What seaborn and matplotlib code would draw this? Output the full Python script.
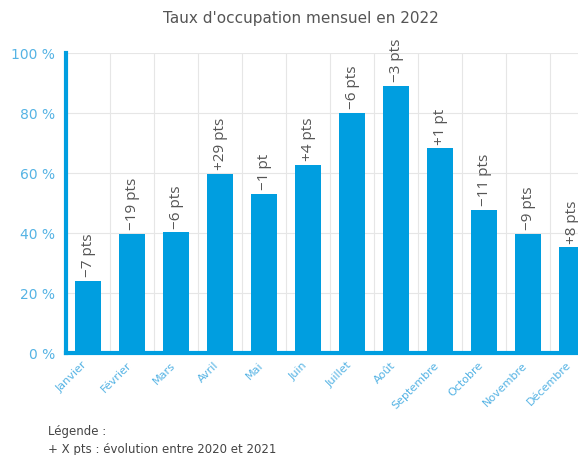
import matplotlib
matplotlib.use("Agg")
import matplotlib.pyplot as plt
from matplotlib.ticker import FixedLocator
from matplotlib.transforms import ScaledTranslation
import pandas as pd
import seaborn as sns

# Data
months = ["Janvier", "Février", "Mars", "Avril", "Mai", "Juin", "Juillet",
          "Août", "Septembre", "Octobre", "Novembre", "Décembre"]
occupation = [24.2, 39.8, 40.3, 59.8, 53.1, 62.9, 80.2, 89.1, 68.3, 47.8, 39.8, 35.3]
evolution = ["−7 pts", "−19 pts", "−6 pts", "+29 pts", "−1 pt", "+4 pts", "−6 pts",
             "−3 pts", "+1 pt", "−11 pts", "−9 pts", "+8 pts"]
y_ticks = [0, 20, 40, 60, 80, 100]

df = pd.DataFrame({"mois": months, "taux": occupation, "evol": evolution})

sns.set_theme(style="white")
plt.rcParams["font.family"] = ["DejaVu Sans"]

bar_color = "#009ee0"
tick_color = "#55b3e4"
text_gray = "#555555"

fig = plt.figure(figsize=(5.78, 4.55), dpi=100)
ax = fig.add_axes([66 / 578, 1 - 353.3 / 455, 528 / 578, 300 / 455])

sns.barplot(data=df, x="mois", y="taux", color=bar_color, width=0.59,
            saturation=1, linewidth=0, edgecolor="none", ax=ax, zorder=3)

ax.set_ylim(0, 100)
ax.set_xlim(-0.5, len(months) - 0.5)
ax.set_yticks(y_ticks)
ax.set_yticklabels([f"{t} %" for t in y_ticks])
ax.xaxis.set_minor_locator(FixedLocator([i + 0.5 for i in range(len(months))]))
ax.grid(axis="y", which="major", color="#e6e6e6", linewidth=0.8, zorder=0)
ax.grid(axis="x", which="minor", color="#e6e6e6", linewidth=0.8, zorder=0)
ax.set_axisbelow(True)

for side in ["top", "right"]:
    ax.spines[side].set_visible(False)
for side in ["left", "bottom"]:
    ax.spines[side].set_color(bar_color)
    ax.spines[side].set_linewidth(3)
    ax.spines[side].set_zorder(5)

ax.tick_params(axis="both", which="both", length=0, colors=tick_color)
ax.tick_params(axis="y", pad=8, labelsize=10)
shift = ScaledTranslation(-6 / 100, -2 / 100, fig.dpi_scale_trans)
for lab in ax.get_xticklabels():
    lab.set_rotation(45)
    lab.set_ha("right")
    lab.set_rotation_mode("anchor")
    lab.set_fontsize(8)
    lab.set_transform(lab.get_transform() + shift)
ax.set_xlabel("")
ax.set_ylabel("")

for i, (val, lab) in enumerate(zip(occupation, evolution)):
    ax.text(i, val + 1.3, lab, rotation=90, ha="center", va="bottom",
            fontsize=11, color=text_gray, family="Open Sans", zorder=4)

fig.text(0.52, 1 - 18 / 455, "Taux d'occupation mensuel en 2022", ha="center",
         va="center", fontsize=11, color=text_gray)
fig.text(48 / 578, 1 - 432 / 455, "Légende :", ha="left", va="center",
         fontsize=8.5, color="#444444")
fig.text(48 / 578, 1 - 449 / 455, "+ X pts : évolution entre 2020 et 2021",
         ha="left", va="center", fontsize=8.5, color="#444444")

fig.savefig("out.png", dpi=100)
